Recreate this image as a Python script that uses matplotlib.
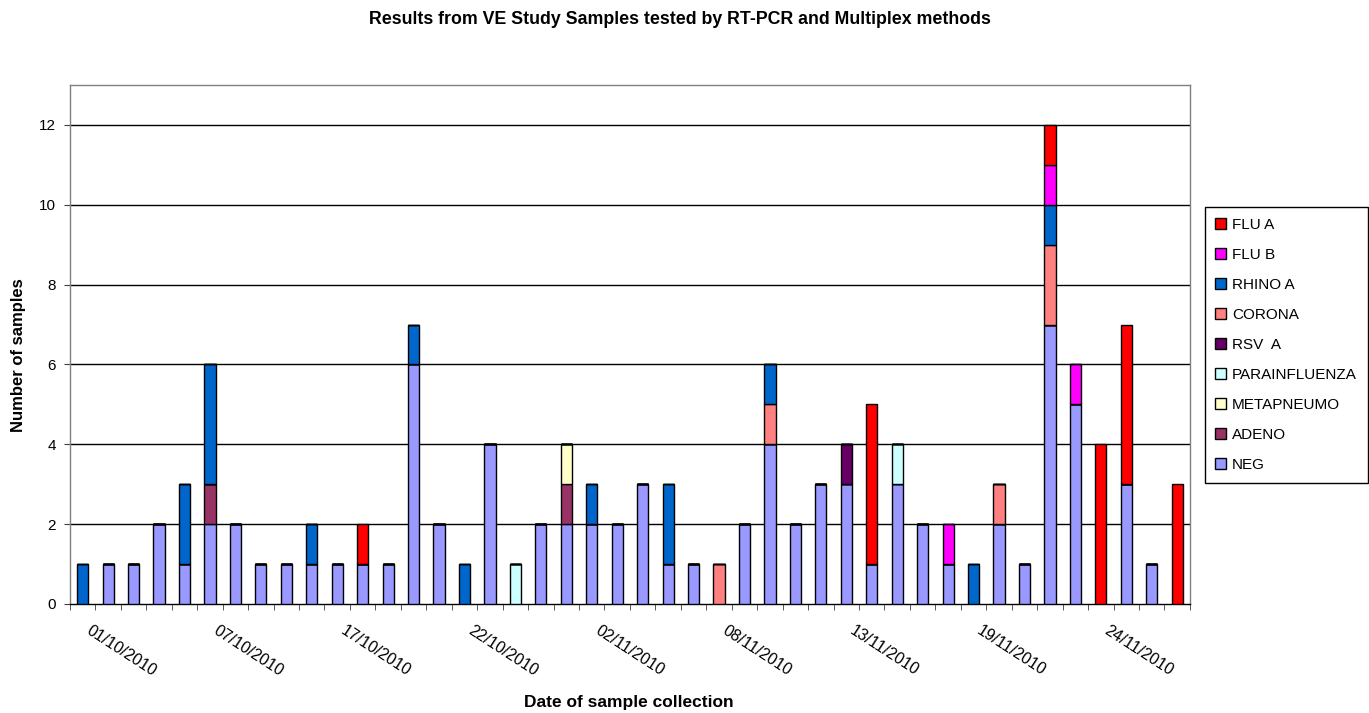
import matplotlib.pyplot as plt
import numpy as np

plt.rcParams['font.family'] = ['Liberation Sans', 'DejaVu Sans']

# one entry per sample collection day (44 days shown)
neg = [0, 1, 1, 2, 1, 2, 2, 1, 1, 1, 1, 1, 1, 6, 2, 0, 4, 0, 2, 2, 2, 2,
       3, 1, 1, 0, 2, 4, 2, 3, 3, 1, 3, 2, 1, 0, 2, 1, 7, 5, 0, 3, 1, 0]
adeno = [0, 0, 0, 0, 0, 1, 0, 0, 0, 0, 0, 0, 0, 0, 0, 0, 0, 0, 0, 1, 0, 0,
         0, 0, 0, 0, 0, 0, 0, 0, 0, 0, 0, 0, 0, 0, 0, 0, 0, 0, 0, 0, 0, 0]
metapneumo = [0, 0, 0, 0, 0, 0, 0, 0, 0, 0, 0, 0, 0, 0, 0, 0, 0, 0, 0, 1, 0, 0,
              0, 0, 0, 0, 0, 0, 0, 0, 0, 0, 0, 0, 0, 0, 0, 0, 0, 0, 0, 0, 0, 0]
parainfluenza = [0, 0, 0, 0, 0, 0, 0, 0, 0, 0, 0, 0, 0, 0, 0, 0, 0, 1, 0, 0, 0, 0,
                 0, 0, 0, 0, 0, 0, 0, 0, 0, 0, 1, 0, 0, 0, 0, 0, 0, 0, 0, 0, 0, 0]
rsv_a = [0, 0, 0, 0, 0, 0, 0, 0, 0, 0, 0, 0, 0, 0, 0, 0, 0, 0, 0, 0, 0, 0,
         0, 0, 0, 0, 0, 0, 0, 0, 1, 0, 0, 0, 0, 0, 0, 0, 0, 0, 0, 0, 0, 0]
corona = [0, 0, 0, 0, 0, 0, 0, 0, 0, 0, 0, 0, 0, 0, 0, 0, 0, 0, 0, 0, 0, 0,
          0, 0, 0, 1, 0, 1, 0, 0, 0, 0, 0, 0, 0, 0, 1, 0, 2, 0, 0, 0, 0, 0]
rhino_a = [1, 0, 0, 0, 2, 3, 0, 0, 0, 1, 0, 0, 0, 1, 0, 1, 0, 0, 0, 0, 1, 0,
           0, 2, 0, 0, 0, 1, 0, 0, 0, 0, 0, 0, 0, 1, 0, 0, 1, 0, 0, 0, 0, 0]
flu_b = [0, 0, 0, 0, 0, 0, 0, 0, 0, 0, 0, 0, 0, 0, 0, 0, 0, 0, 0, 0, 0, 0,
         0, 0, 0, 0, 0, 0, 0, 0, 0, 0, 0, 0, 1, 0, 0, 0, 1, 1, 0, 0, 0, 0]
flu_a = [0, 0, 0, 0, 0, 0, 0, 0, 0, 0, 0, 1, 0, 0, 0, 0, 0, 0, 0, 0, 0, 0,
         0, 0, 0, 0, 0, 0, 0, 0, 0, 4, 0, 0, 0, 0, 0, 0, 1, 0, 4, 4, 0, 3]

date_labels = ['01/10/2010', '07/10/2010', '17/10/2010', '22/10/2010', '02/11/2010',
               '08/11/2010', '13/11/2010', '19/11/2010', '24/11/2010']

# bottom to top stacking order
series = [
    ('NEG', neg, '#9999FF'),
    ('ADENO', adeno, '#993366'),
    ('METAPNEUMO', metapneumo, '#FFFFCC'),
    ('PARAINFLUENZA', parainfluenza, '#CCFFFF'),
    ('RSV  A', rsv_a, '#660066'),
    ('CORONA', corona, '#FF8080'),
    ('RHINO A', rhino_a, '#0066CC'),
    ('FLU B', flu_b, '#FF00FF'),
    ('FLU A', flu_a, '#FF0000'),
]

fig = plt.figure(figsize=(13.69, 7.13), dpi=100)
ax = fig.add_axes([0.0511, 0.1529, 0.8181, 0.7279])

x = np.arange(len(neg))
bottom = np.zeros(len(neg))
handles = {}
for name, vals, color in series:
    vals = np.array(vals, dtype=float)
    bars = ax.bar(x, vals, width=0.44, bottom=bottom, color=color,
                  edgecolor='black', linewidth=1.0, zorder=3)
    handles[name] = bars
    bottom += vals

ax.set_xlim(-0.5, len(neg) - 0.5)
ax.set_ylim(0, 13)
ax.set_yticks(np.arange(0, 13, 2))
for yv in range(2, 13, 2):
    ax.axhline(yv, color='black', linewidth=1.0, zorder=1)

for s in ax.spines.values():
    s.set_color('#808080')
    s.set_linewidth(1.0)
ax.spines['bottom'].set_color('black')

# category boundaries get tick marks; labels sit a little right of the bar
ax.set_xticks(np.arange(-0.5, len(neg), 1.0), minor=True)
ax.set_xticks(np.arange(0, len(neg), 5) + 0.35)
ax.set_xticklabels(date_labels, rotation=-33, ha='left', va='top',
                   rotation_mode='anchor', fontsize=11.5)
ax.tick_params(axis='x', which='major', length=0, pad=14)
ax.tick_params(axis='x', which='minor', length=4, color='#404040')
ax.tick_params(axis='y', length=4, color='#404040', labelsize=11, pad=6)

ax.set_ylabel('Number of samples', fontsize=12, fontweight='bold')
ax.yaxis.set_label_coords(-0.0393, 0.48)
fig.text(0.459, 0.004, 'Date of sample collection', fontsize=12.5,
         fontweight='bold', ha='center', va='bottom')
fig.text(0.497, 0.973, 'Results from VE Study Samples tested by RT-PCR and Multiplex methods',
         fontsize=12.8, fontweight='bold', ha='center', va='center')

order = ['FLU A', 'FLU B', 'RHINO A', 'CORONA', 'RSV  A', 'PARAINFLUENZA',
         'METAPNEUMO', 'ADENO', 'NEG']
leg = ax.legend([handles[n] for n in order], order, loc='upper left',
                bbox_to_anchor=(0.880, 0.7097), bbox_transform=fig.transFigure,
                borderaxespad=0, fancybox=False, edgecolor='black',
                fontsize=11, handlelength=0.7, handleheight=0.7,
                handletextpad=0.4, labelspacing=1.05, borderpad=0.7,
                framealpha=1)
leg.get_frame().set_linewidth(1.0)

fig.savefig('out.png', dpi=100)
